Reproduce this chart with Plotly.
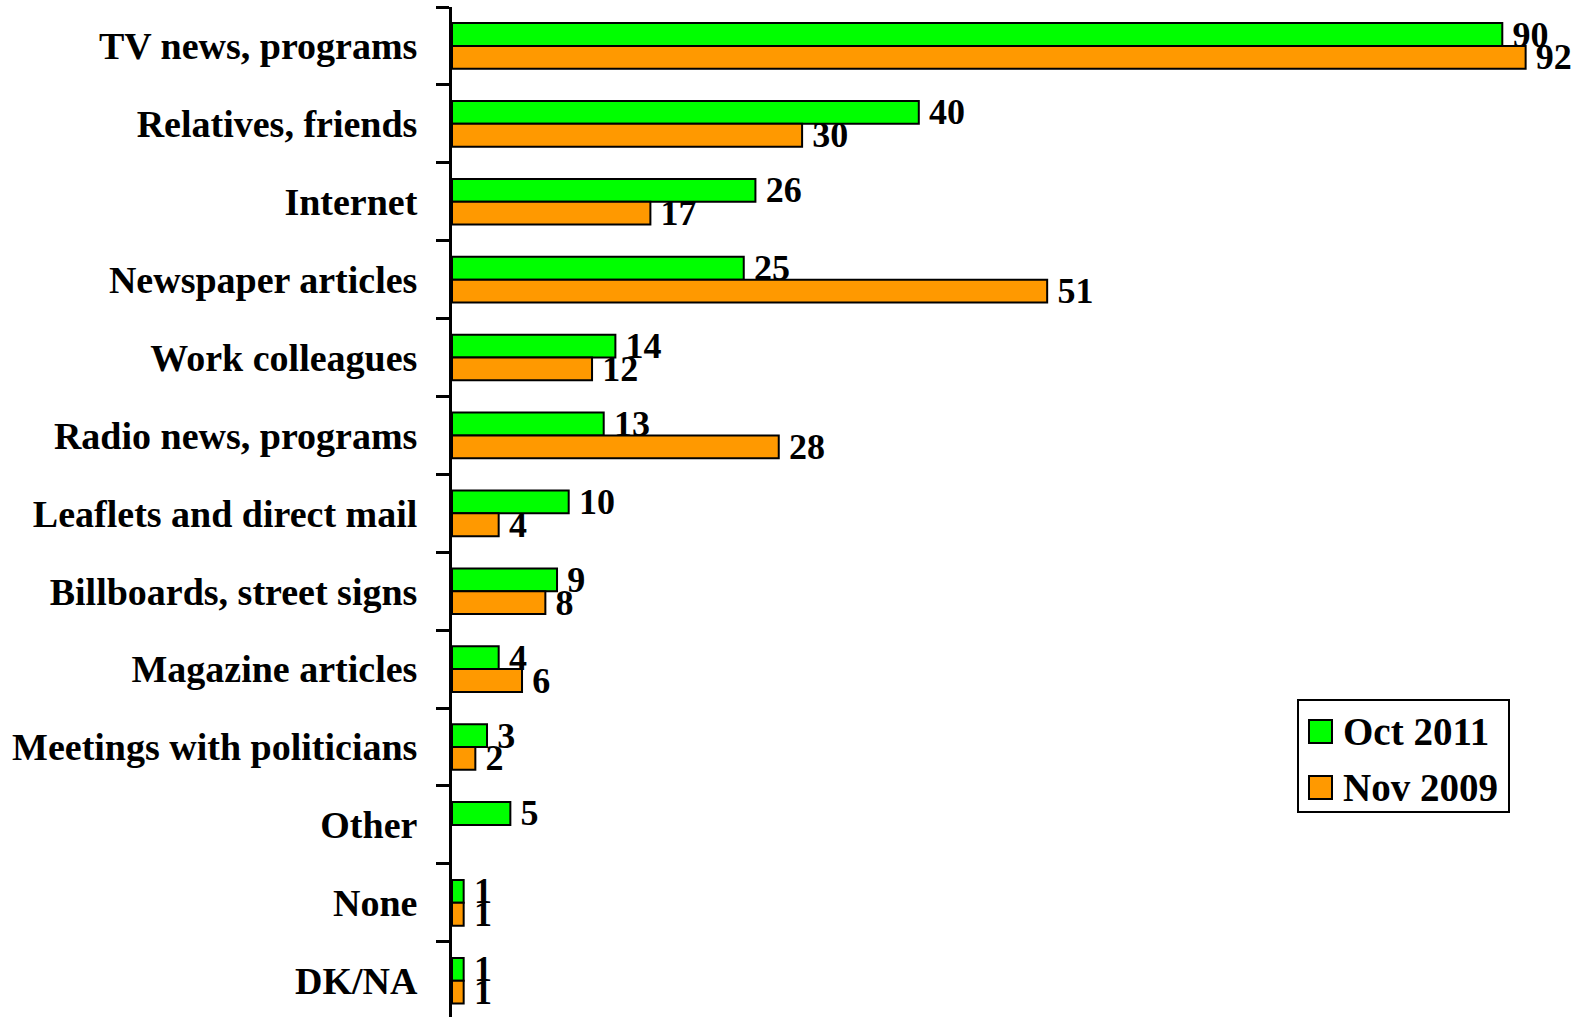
import plotly.graph_objects as go

# Sources of information, share of respondents (%)
categories = [
    "TV news, programs", "Relatives, friends", "Internet", "Newspaper articles",
    "Work colleagues", "Radio news, programs", "Leaflets and direct mail",
    "Billboards, street signs", "Magazine articles", "Meetings with politicians",
    "Other", "None", "DK/NA",
]
series_names = ["Oct 2011", "Nov 2009"]
oct_2011 = [90, 40, 26, 25, 14, 13, 10, 9, 4, 3, 5, 1, 1]
nov_2009 = [92, 30, 17, 51, 12, 28, 4, 8, 6, 2, None, 1, 1]
series_colors = ["#00FF00", "#FF9900"]

W, H = 1582, 1017
ML, MT = 452, 7
FONT = "Times New Roman, Liberation Serif, serif"

fig = go.Figure()
for name, vals, color in zip(series_names, [oct_2011, nov_2009], series_colors):
    fig.add_trace(go.Bar(
        y=categories, x=vals, name=name, orientation="h",
        marker=dict(color=color, line=dict(color="black", width=2)),
        text=["\u2009" + str(v) if v is not None else "" for v in vals],
        textposition="outside", constraintext="none", cliponaxis=False,
        textfont=dict(family=FONT, size=36, color="black", weight="bold"),
        showlegend=False,
    ))

# plot area in pixels -> paper coordinates
PW, PH = W - ML, H - MT
def px(x):
    return (x - ML) / PW
def py(y):
    return (H - y) / PH

# legend box
shapes = [dict(type="rect", xref="paper", yref="paper",
               x0=px(1298), x1=px(1509), y0=py(700), y1=py(812),
               line=dict(color="black", width=2), fillcolor="white")]
annotations = []
for i, (name, color) in enumerate(zip(series_names, series_colors)):
    top = 720 + i * 56
    shapes.append(dict(type="rect", xref="paper", yref="paper",
                       x0=px(1309), x1=px(1332), y0=py(top), y1=py(top + 23),
                       line=dict(color="black", width=2), fillcolor=color))
    annotations.append(dict(xref="paper", yref="paper", x=px(1341), y=py(top + 11.5),
                            text=name, showarrow=False, xanchor="left", yanchor="middle",
                            font=dict(family=FONT, size=39, color="black", weight="bold")))

fig.update_layout(
    width=W, height=H,
    margin=dict(l=ML, r=0, t=MT, b=0, pad=0),
    barmode="group", bargap=0.414, bargroupgap=0,
    plot_bgcolor="white", paper_bgcolor="white",
    shapes=shapes, annotations=annotations,
    xaxis=dict(visible=False, range=[0, (W - ML) / 11.67]),
    yaxis=dict(
        type="category", range=[12.466, -0.5],
        tickson="boundaries", ticks="outside", ticklen=13, tickwidth=3, tickcolor="black",
        showline=True, linewidth=3, linecolor="black", showgrid=False,
        tickfont=dict(family=FONT, size=38, color="black", weight="bold"),
        ticklabelstandoff=24,
    ),
)

fig.write_html("out.html")
